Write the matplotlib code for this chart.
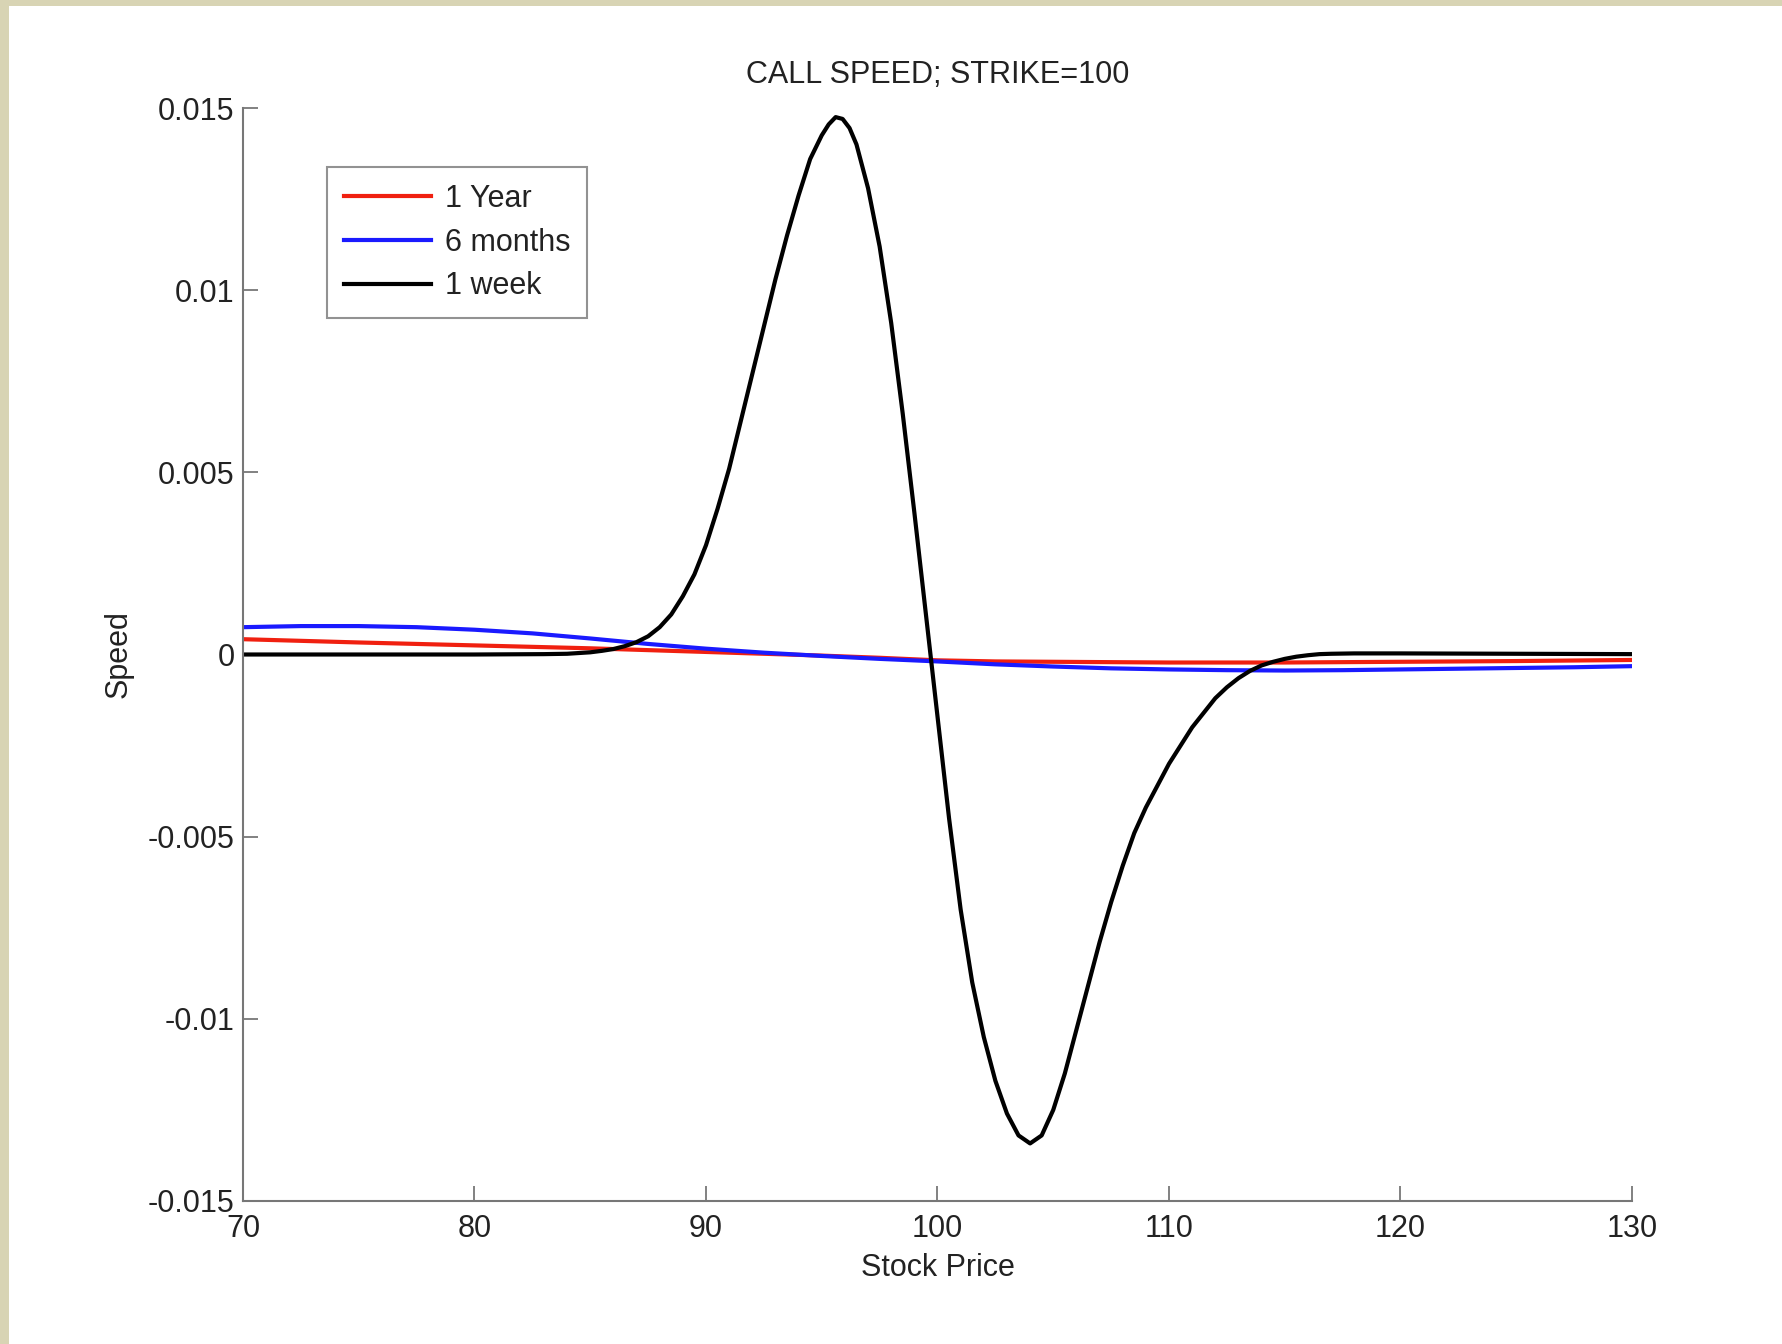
import matplotlib
matplotlib.use("Agg")
import matplotlib.pyplot as plt
from matplotlib.patches import Rectangle

# ---------------- data ----------------
title = "CALL SPEED; STRIKE=100"
x_label = "Stock Price"
y_label = "Speed"
series_names = ["1 Year", "6 months", "1 week"]

price_1y = [70, 75, 80, 85, 87.5, 90, 92.5, 95, 97.5, 100, 102.5, 105, 110, 115, 120, 125, 130]
speed_1y = [0.00042, 0.00033, 0.00025, 0.00017, 0.00012, 0.00007, 0.00002, -0.00003, -0.00009,
            -0.00016, -0.00019, -0.00020, -0.00022, -0.00022, -0.00020, -0.00018, -0.00015]

price_6m = [70, 72.5, 75, 77.5, 80, 82.5, 85, 87.5, 90, 92.5, 95, 97.5, 100, 102.5, 105, 107.5,
            110, 112.5, 115, 117.5, 120, 122.5, 125, 127.5, 130]
speed_6m = [0.00075, 0.00078, 0.00078, 0.00075, 0.00068, 0.00058, 0.00044, 0.00029, 0.00016,
            0.00005, -0.00004, -0.00012, -0.00019, -0.00027, -0.00033, -0.00038, -0.00041,
            -0.00043, -0.00044, -0.00043, -0.00041, -0.00039, -0.00037, -0.00035, -0.00032]

price_1w = [70, 75, 80, 83, 84, 85, 85.5, 86, 86.5, 87, 87.5, 88, 88.5, 89, 89.5, 90, 90.5,
            91, 91.5, 92, 92.5, 93, 93.5, 94, 94.5, 95, 95.3, 95.6, 95.9, 96.2, 96.5, 97, 97.5,
            98, 98.5, 99, 99.5, 100, 100.5, 101, 101.5, 102, 102.5, 103, 103.5, 104, 104.5,
            105, 105.5, 106, 106.5, 107, 107.5, 108, 108.5, 109, 109.5, 110, 110.5, 111,
            111.5, 112, 112.5, 113, 113.5, 114, 114.5, 115, 115.5, 116, 116.5, 117, 118, 120,
            125, 130]
speed_1w = [0.0, 0.0, 0.0, 0.00001, 0.00002, 0.00006, 0.0001, 0.00015, 0.00023, 0.00034,
            0.0005, 0.00075, 0.0011, 0.0016, 0.0022, 0.0030, 0.0040, 0.0051, 0.0064, 0.0077,
            0.0090, 0.0103, 0.0115, 0.0126, 0.0136, 0.01425, 0.01455, 0.01475, 0.0147, 0.01445,
            0.0140, 0.0128, 0.0112, 0.0091, 0.0066, 0.0039, 0.0011, -0.0017, -0.0045, -0.0070,
            -0.0090, -0.0105, -0.0117, -0.0126, -0.0132, -0.01342, -0.0132, -0.0125, -0.0115,
            -0.0103, -0.0091, -0.0079, -0.0068, -0.0058, -0.0049, -0.0042, -0.0036, -0.0030,
            -0.0025, -0.0020, -0.0016, -0.0012, -0.0009, -0.00065, -0.00045, -0.0003, -0.0002,
            -0.00012, -0.00006, -0.00002, 0.00001, 0.00002, 0.00003, 0.00003, 0.00002, 0.00001]

x_ticks = [70, 80, 90, 100, 110, 120, 130]
y_ticks = [-0.015, -0.01, -0.005, 0, 0.005, 0.01, 0.015]
y_tick_labels = ["-0.015", "-0.01", "-0.005", "0", "0.005", "0.01", "0.015"]

# ---------------- figure ----------------
plt.rcParams['font.family'] = ['Liberation Sans', 'DejaVu Sans']
FS = 22

fig = plt.figure(figsize=(17.83, 13.44), dpi=100)
fig.patch.set_facecolor('#d8d4b4')
fig.patches.append(Rectangle((9 / 1783, 0), 1, 1 - 6 / 1344, transform=fig.transFigure,
                             facecolor='white', edgecolor='none', zorder=-10))

ax = fig.add_axes([243 / 1783, 1 - 1201 / 1344, (1632 - 243) / 1783, (1201 - 108) / 1344])
ax.set_facecolor('white')

ax.plot(price_1y, speed_1y, color='#f02010', lw=3.0, label=series_names[0])
ax.plot(price_6m, speed_6m, color='#1a1aff', lw=3.0, label=series_names[1])
ax.plot(price_1w, speed_1w, color='black', lw=3.0, label=series_names[2])

ax.set_xlim(70, 130)
ax.set_ylim(-0.015, 0.015)
ax.set_xticks(x_ticks)
ax.set_xticklabels([str(t) for t in x_ticks])
ax.set_yticks(y_ticks)
ax.set_yticklabels(y_tick_labels)

for s in ['top', 'right']:
    ax.spines[s].set_visible(False)
for s in ['left', 'bottom']:
    ax.spines[s].set_color('#777777')
    ax.spines[s].set_linewidth(1.5)

ax.tick_params(axis='both', direction='in', length=11, width=1.3, color='#777777',
               labelsize=FS, labelcolor='#222222')
ax.tick_params(axis='y', pad=6)
ax.tick_params(axis='x', pad=9.5)

ax.set_title(title, fontsize=FS, color='#222222', pad=18)
ax.set_xlabel(x_label, fontsize=FS, color='#222222', labelpad=6)
ax.set_ylabel(y_label, fontsize=FS, color='#222222', labelpad=10)

leg = ax.legend(loc='upper left', bbox_to_anchor=(0.0605, 0.946), borderaxespad=0,
                fontsize=FS, frameon=True, fancybox=False, handlelength=2.85,
                handletextpad=0.45, labelspacing=0.45, borderpad=0.55)
leg.get_frame().set_edgecolor('#777777')
leg.get_frame().set_linewidth(1.5)
for t in leg.get_texts():
    t.set_color('#222222')

fig.savefig('out.png', dpi=100, facecolor=fig.get_facecolor())
